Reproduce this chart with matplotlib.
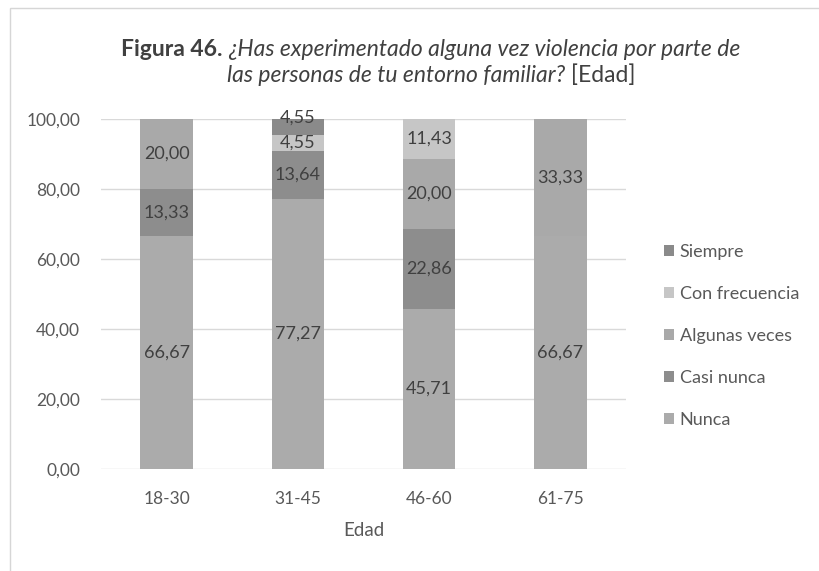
import matplotlib
matplotlib.use("Agg")
import matplotlib.pyplot as plt
import numpy as np
from matplotlib.patches import Rectangle

# Age groups and response shares (%)
edades = ["18-30", "31-45", "46-60", "61-75"]
series = ["Nunca", "Casi nunca", "Algunas veces", "Con frecuencia", "Siempre"]
nunca = [66.67, 77.27, 45.71, 66.67]
casi_nunca = [13.33, 13.64, 22.86, 0.0]
algunas_veces = [20.00, 0.0, 20.00, 33.33]
con_frecuencia = [0.0, 4.55, 11.43, 0.0]
siempre = [0.0, 4.55, 0.0, 0.0]
valores = [nunca, casi_nunca, algunas_veces, con_frecuencia, siempre]
colores = ["#ababab", "#8d8d8d", "#a9a9a9", "#c6c6c6", "#8a8a8a"]
yticks = [0, 20, 40, 60, 80, 100]

FONT = "Lato"
TXT = "#595959"

fig = plt.figure(figsize=(8.2, 5.71), dpi=100)
W, H = 820, 571

# Outer chart frame
fig.patches.append(Rectangle((10 / W, -0.1), 1.2, (571 - 8) / H + 0.1,
                             transform=fig.transFigure, fill=False,
                             edgecolor="#d6d6d6", linewidth=1.0))

ax = fig.add_axes([101 / W, 1 - 469 / H, (626 - 101) / W, (469 - 119) / H])
x = np.arange(len(edades))
bottom = np.zeros(len(edades))
ultimo_y = [-100.0] * len(edades)  # last label height per bar, to avoid overlap
handles = []
for nombre, vals, col in zip(series, valores, colores):
    vals = np.array(vals)
    b = ax.bar(x, vals, width=0.4, bottom=bottom, color=col, label=nombre,
               zorder=2)
    handles.append(b)
    for i, (xi, v, b0) in enumerate(zip(x, vals, bottom)):
        if v > 0:
            y_lab = max(b0 + v / 2, ultimo_y[i] + 7.2)
            ultimo_y[i] = y_lab
            ax.text(xi, y_lab, f"{v:.2f}".replace(".", ","),
                    ha="center", va="center", fontsize=13, color="#404040",
                    family=FONT, zorder=3, clip_on=False)
    bottom += vals

ax.set_xlim(-0.5, len(edades) - 0.5)
ax.set_ylim(0, 100)
ax.set_yticks(yticks)
ax.set_yticklabels([f"{v:.2f}".replace(".", ",") for v in yticks],
                   family=FONT, fontsize=12.5, color=TXT)
ax.set_xticks(x)
ax.set_xticklabels(edades, family=FONT, fontsize=12.5, color=TXT)
ax.tick_params(axis="both", length=0)
ax.tick_params(axis="y", pad=15)
ax.tick_params(axis="x", pad=16)
for s in ax.spines.values():
    s.set_visible(False)
ax.yaxis.grid(True, color="#d9d9d9", linewidth=1.0, zorder=0)
ax.set_axisbelow(True)
ax.set_xlabel("Edad", family=FONT, fontsize=13.5, color=TXT, labelpad=11)

leg = fig.legend(handles[::-1], series[::-1], loc="upper left",
                 bbox_to_anchor=(648 / W, 1 - 228 / H), frameon=False,
                 prop={"family": FONT, "size": 13}, labelcolor=TXT,
                 handlelength=0.55, handleheight=0.55, handletextpad=0.3,
                 labelspacing=1.43)

# Title with mixed styles, laid out piece by piece
renderer = fig.canvas.get_renderer()
fs_t = 16.5
def linea(piezas, y_px):
    textos = []
    for txt, peso, estilo in piezas:
        t = fig.text(0, 1 - y_px / H, txt, fontsize=fs_t, family=FONT,
                     fontweight=peso, fontstyle=estilo, color="#404040",
                     va="center", ha="left")
        textos.append(t)
    anchos = [t.get_window_extent(renderer).width for t in textos]
    total = sum(anchos)
    x0 = 431 - total / 2
    for t, w in zip(textos, anchos):
        t.set_x(x0 / W)
        x0 += w

linea([("Figura 46. ", "bold", "normal"),
       ("¿Has experimentado alguna vez violencia por parte de", "normal", "italic")], 49)
linea([("las personas de tu entorno familiar?", "normal", "italic"),
       (" [Edad]", "normal", "normal")], 75)

fig.savefig("out.png", dpi=100, facecolor="white")
